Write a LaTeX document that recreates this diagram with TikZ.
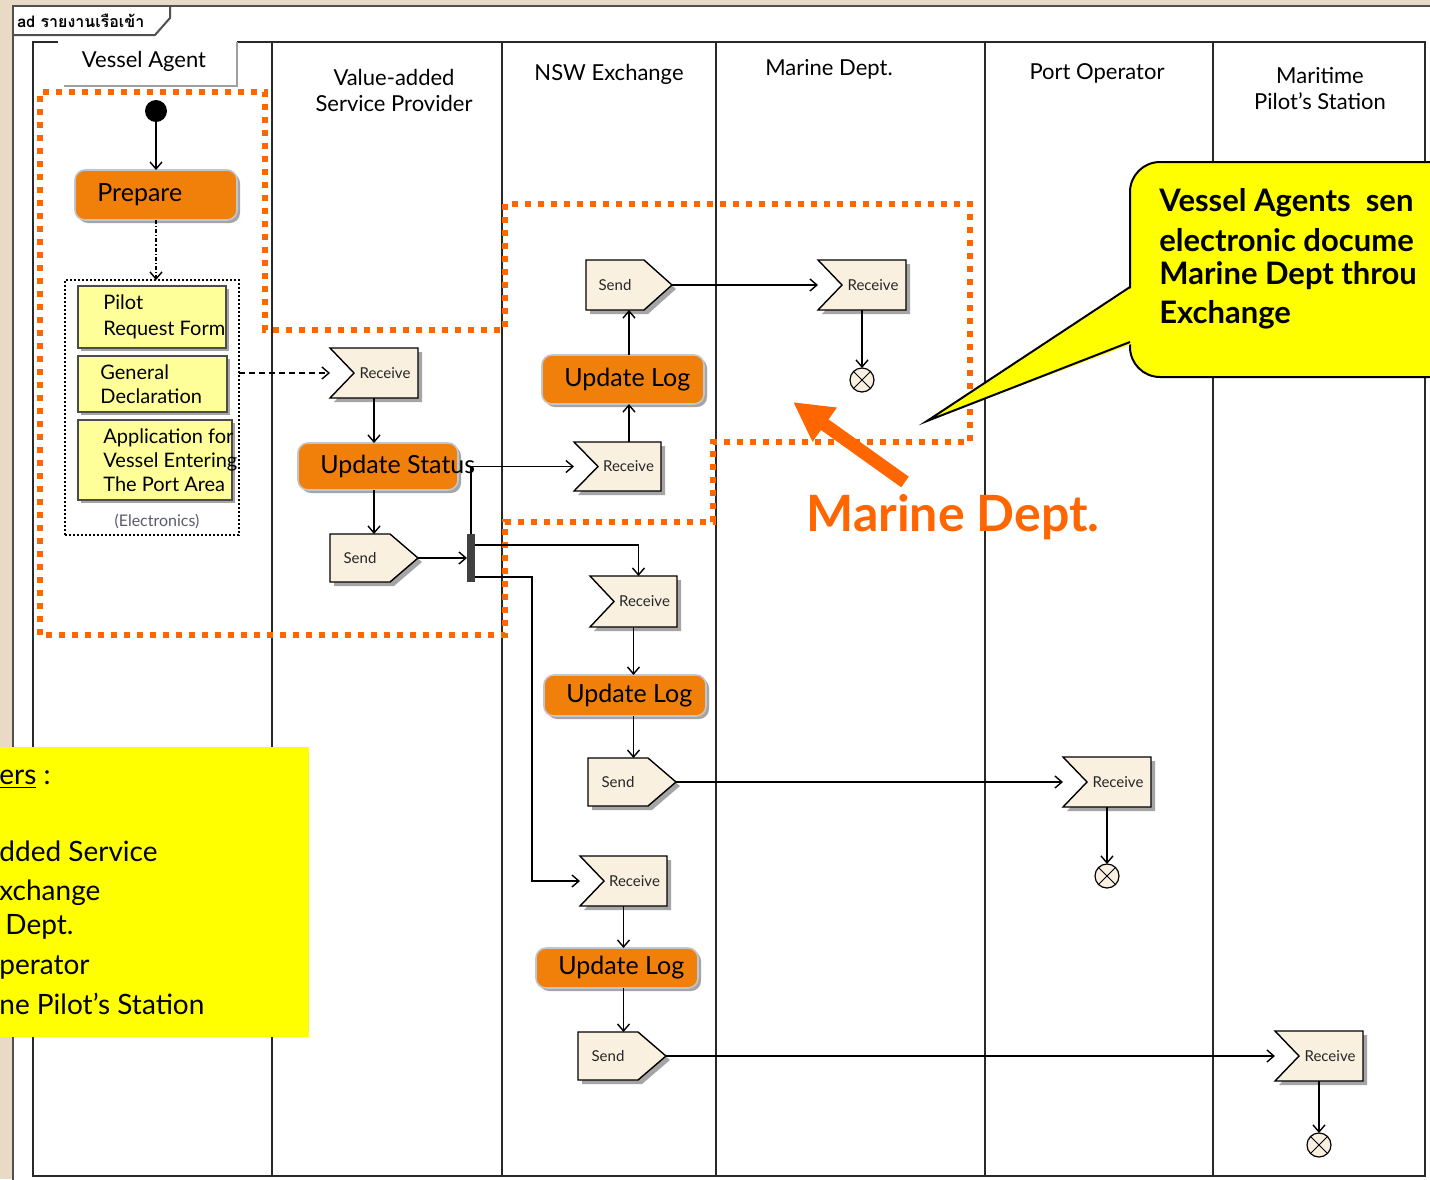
\documentclass[tikz,border=0pt]{standalone}
\usepackage{fontspec}
\setmainfont{Lato}
\newfontfamily\thaifont[Script=Thai]{Loma}
\usetikzlibrary{arrows.meta,calc,fit,shadows}
\definecolor{bgbeige}{RGB}{232,218,196}
\definecolor{framec}{RGB}{80,80,80}
\definecolor{lanec}{RGB}{40,40,40}
\definecolor{taskorange}{RGB}{240,128,10}
\definecolor{taskrim}{RGB}{190,198,210}
\definecolor{docyellow}{RGB}{255,255,153}
\definecolor{sigfill}{RGB}{250,240,224}
\definecolor{zoneorange}{RGB}{255,102,0}
\definecolor{callyellow}{RGB}{255,255,0}
\definecolor{shadowc}{RGB}{165,165,165}
\definecolor{elecc}{RGB}{90,90,110}
\newcommand\fsz[2]{\fontsize{#1}{#2}\selectfont}
% receive (accept event) shape
\newcommand\recvshape[5]{%
  \node[plainbox, fit={(#2,#3) (#4,#5)}] (#1) {};
  \fill[shadowc] ($(#1.north west)+(4,4)$) -- ($(#1.north east)+(4,4)$) -- ($(#1.south east)+(4,4)$) -- ($(#1.south west)+(4,4)$) -- ($(#1.west)+(28,4)$) -- cycle;
  \filldraw[sigshape] (#1.north west) -- (#1.north east) -- (#1.south east) -- (#1.south west) -- ($(#1.west)+(24,0)$) -- cycle;
  \node[sigtext] at ($(#1.center)+(11,0)$) {Receive};
}
% send signal shape
\newcommand\sendshape[5]{%
  \node[plainbox, fit={(#2,#3) (#4,#5)}] (#1) {};
  \fill[shadowc] ($(#1.north west)+(4,4)$) -- ($(#1.north east)+(-24,4)$) -- ($(#1.east)+(4,4)$) -- ($(#1.south east)+(-24,4)$) -- ($(#1.south west)+(4,4)$) -- cycle;
  \filldraw[sigshape] (#1.north west) -- ($(#1.north east)+(-28,0)$) -- (#1.east) -- ($(#1.south east)+(-28,0)$) -- (#1.south west) -- cycle;
  \node[sigtext] at ($(#1.center)+(-14,0)$) {Send};
}
\newcommand\taskbox[6]{%
  \node[taskshape, fit={(#2,#3) (#4,#5)}] (#1) {};
  \node[tasktext] at ($(#1.west)+(22,0)$) {#6};
}
\newcommand\docbox[7]{%
  \node[docshape, fit={(#2,#3) (#4,#5)}] (#1) {};
  \node[doctext] at ($(#1.west)+(#6,0)$) {#7};
}
\newcommand\finalflow[3]{%
  \node[finalshape] (#1) at (#2,#3) {};
  \draw[line width=0.5pt] (#1.north east) -- (#1.south west) (#1.north west) -- (#1.south east);
}
\begin{document}
\begin{tikzpicture}[x=0.5pt, y=-0.5pt,
  lanestyle/.style={draw=lanec, line width=1pt},
  zonestyle/.style={draw=zoneorange, line width=3pt, dash pattern=on 3pt off 3.5pt},
  plainbox/.style={inner sep=0pt, outer sep=0pt},
  taskshape/.style={plainbox, rounded corners=5pt, fill=taskorange, draw=taskrim, line width=0.8pt,
     drop shadow={shadow xshift=1.5pt, shadow yshift=-1.5pt, fill=shadowc, opacity=1}},
  tasktext/.style={anchor=west, inner sep=0pt, font=\fsz{12.5pt}{15pt}},
  docshape/.style={plainbox, fill=docyellow, draw=black!70, line width=0.6pt,
     drop shadow={shadow xshift=1.5pt, shadow yshift=-1.5pt, fill=shadowc, opacity=1}},
  doctext/.style={anchor=west, inner sep=0pt, align=left, font=\fsz{10pt}{12pt}},
  sigshape/.style={fill=sigfill, draw=black, line width=0.7pt, line join=miter},
  sigtext/.style={inner sep=0pt, font=\fsz{7.5pt}{9pt}, text=black!85},
  flow/.style={draw=black, line width=0.7pt, -{Straight Barb[length=3.5pt,width=6pt]}},
  headertext/.style={align=center, inner sep=0pt, font=\fsz{11pt}{13pt}},
  finalshape/.style={circle, plainbox, minimum size=12pt, fill=sigfill, draw=black, line width=0.6pt},
  startshape/.style={circle, plainbox, minimum size=11pt, fill=black},
  legendtext/.style={anchor=west, inner sep=0pt, font=\fsz{14pt}{16pt}},
  callouttext/.style={anchor=west, inner sep=0pt, font=\bfseries\fsz{15.5pt}{18pt}},
]
\useasboundingbox (0,0) rectangle (1430,1179);
\clip (0,0) rectangle (1430,1179);
% background and frame
\fill[bgbeige] (0,0) rectangle (1430,1179);
\filldraw[fill=white, draw=framec, line width=1pt] (13,6) rectangle (1445,1195);
\draw[framec, line width=1pt] (13,35) -- (155,35) -- (170,18) -- (170,6);
\node[anchor=west, inner sep=0pt, font=\thaifont\bfseries\fsz{8pt}{9pt}] (title) at (17,21) {ad รายงานเรือเข้า};
% swimlanes
\draw[lanestyle] (33,42) rectangle (1425,1176);
\foreach \lx in {272,502,716,985,1213} \draw[lanestyle] (\lx,42) -- (\lx,1176);
\fill[white] (58,39) rectangle (237,85);
\draw[gray!75, line width=1pt] (237,42) -- (237,86) -- (64,86);
\node[headertext] (hva) at (144,61) {Vessel Agent};
\node[headertext] (hvas) at (394,90) {Value-added\\Service Provider};
\node[headertext] (hnsw) at (609,74) {NSW Exchange};
\node[headertext] (hmd) at (829,69) {Marine Dept.};
\node[headertext] (hpo) at (1097,73) {Port Operator};
\node[headertext] (hmps) at (1320,89) {Maritime\\Pilot’s Station};
% orange zones
\draw[zonestyle] (40,635) -- (40,92) -- (265,92) -- (265,330) -- (503,330);
\draw[zonestyle] (505,327) -- (505,204) -- (970,204) -- (970,442) -- (713,442) -- (713,522) -- (505,522) -- (505,635) -- (40,635);
% Vessel Agent lane
\node[startshape] (init) at (156,111) {};
\taskbox{prep}{75}{170}{237}{220}{Prepare}
\node[plainbox, draw=black, line width=0.6pt, dash pattern=on 1pt off 1pt, fit={(65,280) (239,535)}] (grp) {};
\docbox{d1}{78}{286}{226}{348}{25}{Pilot\\[1pt]Request Form}
\docbox{d2}{78}{356}{227}{412}{22}{General\\Declaration}
\docbox{d3}{78}{420}{232}{500}{25}{Application for\\Vessel Entering\\The Port Area}
\node[inner sep=0pt, font=\fsz{8pt}{9pt}, text=elecc] (elec) at (157,521) {(Electronics)};
% Value-added service provider lane
\recvshape{r1}{330}{348}{418}{398}
\taskbox{us}{298}{443}{458}{490}{Update Status}
\sendshape{s1}{330}{534}{418}{582}
\node[plainbox, fill=black!75, fit={(467,534) (475,582)}] (fork) {};
% NSW Exchange lane
\recvshape{r2}{574}{442}{661}{491}
\taskbox{ul1}{542}{355}{704}{404}{Update Log}
\sendshape{s2}{586}{260}{672}{310}
\recvshape{r3}{590}{576}{677}{627}
\taskbox{ul2}{544}{675}{706}{716}{Update Log}
\sendshape{s3}{588}{758}{676}{806}
\recvshape{r4}{580}{856}{667}{906}
\taskbox{ul3}{536}{948}{698}{988}{Update Log}
\sendshape{s4}{578}{1032}{666}{1080}
% receivers
\recvshape{rmd}{818}{260}{906}{310}
\finalflow{fmd}{862}{380}
\recvshape{rpo}{1063}{757}{1151}{807}
\finalflow{fpo}{1107}{876}
\recvshape{rmps}{1275}{1031}{1363}{1081}
\finalflow{fmps}{1319}{1145}
% connectors
\draw[flow] (init.south) -- (prep.north);
\draw[flow, dash pattern=on 2pt off 1pt on 0.6pt off 1pt] (prep.south) -- (prep.south |- grp.north);
\draw[flow, dash pattern=on 3pt off 2pt] (grp.east |- r1.west) -- (r1.west);
\draw[flow] (r1.south) -- (us.north -| r1.south);
\draw[flow] (us.south -| s1.north) -- (s1.north);
\draw[flow] (s1.east) -- (fork.west);
\draw[flow] (fork.north) |- (r2.west);
\draw[flow] ([yshift=-5.5pt]fork.north east) -| ([xshift=2.5pt]r3.north);
\coordinate (bend) at (532,700);
\draw[flow] ([yshift=2.5pt]fork.south east) -| (bend) |- (r4.west);
\draw[flow] (r2.north -| s2.south) -- (ul1.south -| s2.south);
\draw[flow] (ul1.north -| s2.south) -- (s2.south);
\draw[flow] (s2.east) -- (rmd.west);
\draw[flow] (rmd.south) -- (fmd.north);
\draw[flow] (r3.south) -- (ul2.north -| r3.south);
\draw[flow] (ul2.south -| r3.south) -- (s3.north -| r3.south);
\draw[flow] (s3.east) -- (rpo.west);
\draw[flow] (rpo.south) -- (fpo.north);
\draw[flow] (r4.south) -- (ul3.north -| r4.south);
\draw[flow] (ul3.south -| r4.south) -- (s4.north -| r4.south);
\draw[flow] (s4.east) -- (rmps.west);
\draw[flow] (rmps.south) -- (fmps.north);
% Marine Dept annotation
\coordinate (mdtail) at (905,482);
\coordinate (mdtip) at (793,402);
\draw[line width=6.5pt, draw=zoneorange, -{Triangle[length=19.5pt,width=19.5pt]}] (mdtail) -- (mdtip);
\node[anchor=west, inner sep=0pt, font=\bfseries\fsz{25pt}{28pt}, text=zoneorange] (mdlabel) at (806,517) {Marine Dept.};
% callout
\node[plainbox, rounded corners=15pt, fill=callyellow, draw=black, line width=1pt, fit={(1130,162) (1480,377)}] (callout) {};
\fill[callyellow] (1134,286) -- (927,421) -- (1134,343) -- cycle;
\draw[black, line width=1pt, line join=miter] (1130,287) -- (927,421) -- (1130,342);
\node[callouttext] (c1) at (1159,203) {Vessel Agents\ \ sen};
\node[callouttext] (c2) at (1159,240) {electronic docume};
\node[callouttext] (c3) at (1159,276) {Marine Dept throu};
\node[callouttext] (c4) at (1159,315) {Exchange};
% legend
\node[plainbox, fill=callyellow, fit={(-5,747) (309,1037)}] (legend) {};
\node[legendtext] (l1) at (-1,779) {\underline{ers} :};
\node[legendtext] (l2) at (-1,851) {dded Service};
\node[legendtext] (l3) at (-1,893) {xchange};
\node[legendtext] (l4) at (5,927) {Dept.};
\node[legendtext] (l5) at (-1,967) {perator};
\node[legendtext] (l6) at (-1,1004) {ne Pilot’s Station};
\end{tikzpicture}
\end{document}
